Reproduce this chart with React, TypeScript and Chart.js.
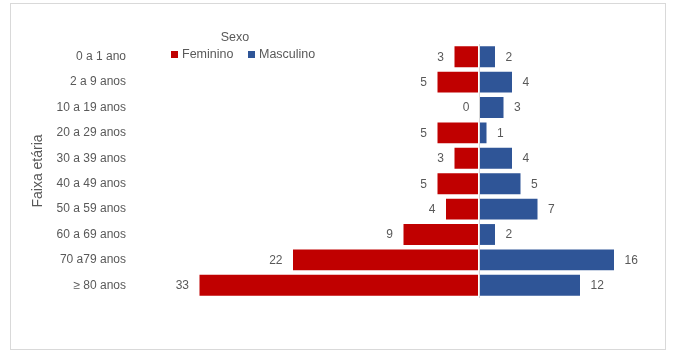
import React, { useEffect, useRef } from 'react';
import { Chart, registerables } from 'chart.js';

Chart.register(...registerables);

const categories = ['0 a 1 ano', '2 a 9 anos', '10 a 19 anos', '20 a 29 anos', '30 a 39 anos', '40 a 49 anos', '50 a 59 anos', '60 a 69 anos', '70 a79 anos', '≥ 80 anos'];
const feminino = [3, 5, 0, 5, 3, 5, 4, 9, 22, 33];
const masculino = [2, 4, 3, 1, 4, 5, 7, 2, 16, 12];
const seriesNames = ['Feminino', 'Masculino'];
const seriesColors = ['#C00000', '#2F5597'];
const legendTitle = 'Sexo';
const axisTitle = 'Faixa etária';

const FONT = "'Liberation Sans', Arial, sans-serif";
const TEXT = '#595959';

const overlay = {
  id: 'overlay',
  beforeDraw(chart: any) {
    const ctx = chart.ctx;
    ctx.save();
    ctx.strokeStyle = '#d9d9d9';
    ctx.lineWidth = 1;
    ctx.strokeRect(10.5, 3.5, 655, 346);
    ctx.restore();
  },
  afterDatasetsDraw(chart: any) {
    const ctx = chart.ctx;
    const area = chart.chartArea;
    const x0 = chart.scales.x.getPixelForValue(0);
    ctx.save();
    ctx.strokeStyle = '#d9d9d9';
    ctx.lineWidth = 1;
    ctx.beginPath();
    ctx.moveTo(Math.round(x0) + 0.5, area.top);
    ctx.lineTo(Math.round(x0) + 0.5, area.bottom);
    ctx.stroke();

    ctx.font = `12px ${FONT}`;
    ctx.fillStyle = TEXT;
    ctx.textBaseline = 'middle';
    chart.data.datasets.forEach((ds: any, i: number) => {
      const meta = chart.getDatasetMeta(i);
      meta.data.forEach((bar: any, j: number) => {
        const v = ds.data[j];
        const txt = String(Math.abs(v));
        if (i === 0) {
          ctx.textAlign = 'right';
          ctx.fillText(txt, bar.x - 9.5, bar.y + 0.5);
        } else {
          ctx.textAlign = 'left';
          ctx.fillText(txt, bar.x + 9.5, bar.y + 0.5);
        }
      });
    });

    // legend
    ctx.textAlign = 'center';
    ctx.font = `12.5px ${FONT}`;
    ctx.fillText(legendTitle, 235, 37.5);
    const items = [
      { sq: 171, tx: 182 },
      { sq: 248, tx: 259 },
    ];
    items.forEach((it, i) => {
      ctx.fillStyle = chart.data.datasets[i].backgroundColor;
      ctx.fillRect(it.sq, 51, 7, 7);
      ctx.fillStyle = TEXT;
      ctx.textAlign = 'left';
      ctx.fillText(chart.data.datasets[i].label, it.tx, 55);
    });
    ctx.restore();
  },
};

export default function App() {
  const ref = useRef<HTMLCanvasElement>(null);
  useEffect(() => {
    if (!ref.current) return;
    const chart = new Chart(ref.current, {
      type: 'bar',
      data: {
        labels: categories,
        datasets: [
          {
            label: seriesNames[0],
            data: feminino.map((v) => -v),
            backgroundColor: seriesColors[0],
            borderColor: 'rgba(255,255,255,0.45)',
            borderWidth: 1,
            borderSkipped: false,
          },
          {
            label: seriesNames[1],
            data: masculino,
            backgroundColor: seriesColors[1],
            borderColor: 'rgba(255,255,255,0.45)',
            borderWidth: 1,
            borderSkipped: false,
          },
        ],
      },
      options: {
        indexAxis: 'y',
        responsive: false,
        animation: false,
        devicePixelRatio: 1,
        datasets: { bar: { barPercentage: 0.9, categoryPercentage: 1 } },
        layout: { padding: { left: 26, top: 44, right: 25, bottom: 54 } },
        plugins: { legend: { display: false }, tooltip: { enabled: false } },
        scales: {
          x: { display: false, stacked: true, min: -40, max: 20 },
          y: {
            stacked: true,
            grid: { display: false, drawTicks: false },
            border: { display: false },
            ticks: { color: TEXT, font: { family: FONT, size: 12 }, padding: 13 },
            title: { display: true, text: axisTitle, color: TEXT, font: { family: FONT, size: 14 }, padding: { top: 4, bottom: 4 } },
            afterFit: (scale: any) => {
              scale.width = 113;
            },
          },
        },
      } as any,
      plugins: [overlay],
    });
    return () => chart.destroy();
  }, []);
  return (
    <div style={{ position: 'fixed', left: 0, top: 0, width: 674, height: 352, background: '#fff' }}>
      <canvas ref={ref} width={674} height={352} style={{ width: 674, height: 352 }} />
    </div>
  );
}
